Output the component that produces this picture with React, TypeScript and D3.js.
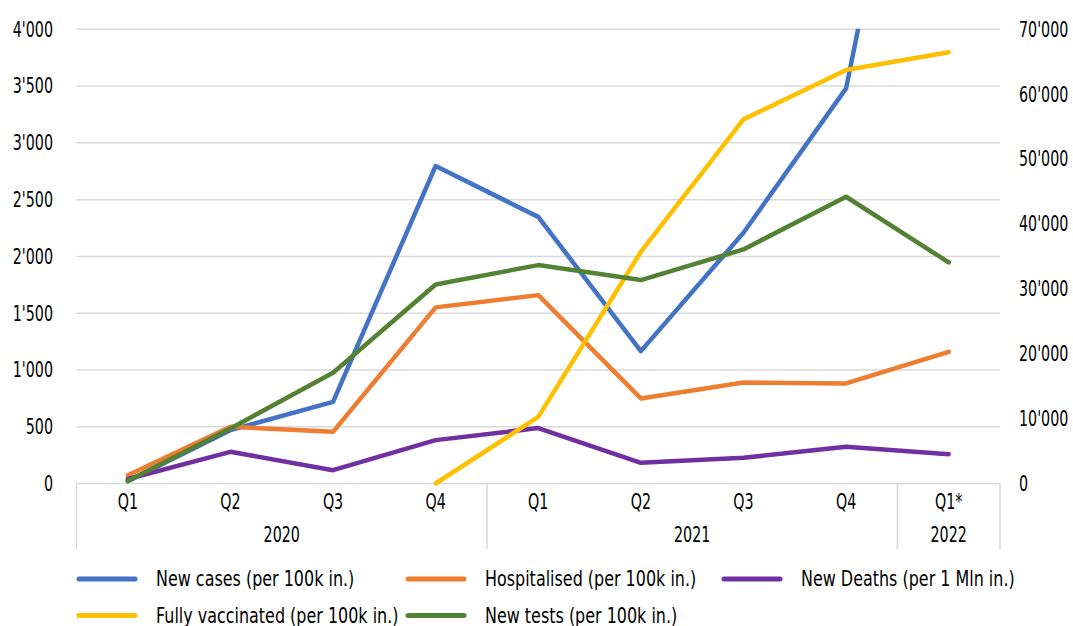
import React from "react";
import * as d3 from "d3";

// Quarterly categories, grouped by year
const quarters = ["Q1", "Q2", "Q3", "Q4", "Q1", "Q2", "Q3", "Q4", "Q1*"];
const yearGroups = [
  { label: "2020", start: 0, end: 4 },
  { label: "2021", start: 4, end: 8 },
  { label: "2022", start: 8, end: 9 },
];

// Left-axis series
const newCases = [20, 470, 719, 2796, 2348, 1166, 2208, 3480, 7930];
const hospitalised = [73, 499, 455, 1551, 1659, 749, 890, 881, 1160];
const newDeaths = [40, 279, 117, 382, 488, 182, 226, 323, 258];

// Right-axis series
const fullyVaccinated: (number | null)[] = [null, null, null, 0, 10270, 35710, 56120, 63720, 66450];
const newTests = [400, 8480, 17060, 30680, 33660, 31350, 36080, 44190, 34070];

const leftTicks = [0, 500, 1000, 1500, 2000, 2500, 3000, 3500, 4000];
const rightTicks = [0, 10000, 20000, 30000, 40000, 50000, 60000, 70000];

const series = [
  { name: "New cases (per 100k in.)", values: newCases, axis: "left", color: "#4472C4" },
  { name: "Hospitalised (per 100k in.)", values: hospitalised, axis: "left", color: "#ED7D31" },
  { name: "New Deaths (per 1 Mln in.)", values: newDeaths, axis: "left", color: "#7030A0" },
  { name: "Fully vaccinated (per 100k in.)", values: fullyVaccinated, axis: "right", color: "#FFC000" },
  { name: "New tests (per 100k in.)", values: newTests, axis: "right", color: "#548235" },
];

// painting order: later series sit on top
const drawOrder = [0, 1, 2, 3, 4];

const W = 1073;
const H = 626;
const plot = { left: 76.5, right: 1000, top: 29.3, bottom: 483.5 };
const FONT = "'DejaVu Sans', sans-serif";
const FONT_SIZE = 21;
const TEXT = "#000000";
const GRID = "#D9D9D9";
const AXIS_SX = 0.68; // horizontal squeeze for a condensed look
const LEGEND_SX = 0.76;

const locale = d3.formatLocale({ decimal: ".", thousands: "'", grouping: [3], currency: ["", ""] });
const fmt = locale.format(",");

type TProps = {
  x: number;
  y: number;
  anchor?: "start" | "middle" | "end";
  sx: number;
  children: React.ReactNode;
};

// Condensed text: squeezed horizontally around its anchor point
function T({ x, y, anchor = "start", sx, children }: TProps) {
  return (
    <g transform={`translate(${x},${y}) scale(${sx},1)`}>
      <text x={0} y={0} dy="0.35em" textAnchor={anchor} fontSize={FONT_SIZE} fill={TEXT}>
        {children}
      </text>
    </g>
  );
}

export default function App() {
  const x = d3
    .scaleBand<number>()
    .domain(d3.range(quarters.length))
    .range([plot.left, plot.right])
    .paddingInner(0)
    .paddingOuter(0);
  const cx = (i: number) => (x(i) as number) + x.bandwidth() / 2;
  const yL = d3.scaleLinear().domain([0, 4000]).range([plot.bottom, plot.top]);
  const yR = d3.scaleLinear().domain([0, 70000]).range([plot.bottom, plot.top]);

  const makeLine = (axis: string) =>
    d3
      .line<number | null>()
      .defined((v) => v !== null)
      .x((_, i) => cx(i))
      .y((v) => (axis === "left" ? yL(v as number) : yR(v as number)));

  const legendRows = [
    [0, 1, 2],
    [3, 4],
  ];
  const legendCols = [77, 406, 722];
  const legendY = [579, 615.5];

  return (
    <svg
      width={W}
      height={H}
      style={{ position: "absolute", left: 0, top: 0, background: "#fff" }}
      fontFamily={FONT}
    >
      <defs>
        <clipPath id="plot-clip">
          <rect x={0} y={plot.top - 0.5} width={W} height={plot.bottom - plot.top + 10} />
        </clipPath>
      </defs>

      {/* gridlines */}
      {leftTicks.slice(1).map((t) => (
        <line key={t} x1={plot.left} x2={plot.right} y1={yL(t)} y2={yL(t)} stroke={GRID} strokeWidth={1.5} />
      ))}

      {/* left axis labels */}
      {leftTicks.map((t) => (
        <T key={t} x={53} y={yL(t)} anchor="end" sx={AXIS_SX}>
          {fmt(t)}
        </T>
      ))}

      {/* right axis labels */}
      {rightTicks.map((t) => (
        <T key={t} x={1019} y={yR(t)} anchor="start" sx={AXIS_SX}>
          {fmt(t)}
        </T>
      ))}

      {/* category axis */}
      <line x1={plot.left} x2={plot.right} y1={plot.bottom} y2={plot.bottom} stroke={GRID} strokeWidth={1.5} />
      {[0, 4, 8, 9].map((b) => {
        const bx = b === 9 ? plot.right : (x(b) as number);
        return <line key={b} x1={bx} x2={bx} y1={plot.bottom} y2={549} stroke={GRID} strokeWidth={1.5} />;
      })}
      {quarters.map((q, i) => (
        <T key={i} x={cx(i)} y={502} anchor="middle" sx={AXIS_SX}>
          {q}
        </T>
      ))}
      {yearGroups.map((g) => {
        const x0 = x(g.start) as number;
        const x1 = g.end >= quarters.length ? plot.right : (x(g.end) as number);
        return (
          <T key={g.label} x={(x0 + x1) / 2} y={535} anchor="middle" sx={AXIS_SX}>
            {g.label}
          </T>
        );
      })}

      {/* series lines */}
      <g clipPath="url(#plot-clip)">
        {drawOrder.map((si) => {
          const s = series[si];
          return (
            <path
              key={s.name}
              d={makeLine(s.axis)(s.values as (number | null)[]) || ""}
              fill="none"
              stroke={s.color}
              strokeWidth={4.5}
              strokeLinejoin="round"
              strokeLinecap="round"
            />
          );
        })}
      </g>

      {/* legend */}
      {legendRows.map((row, r) =>
        row.map((si, c) => {
          const s = series[si];
          const lx = legendCols[c];
          const ly = legendY[r];
          return (
            <g key={s.name}>
              <line x1={lx + 2} x2={lx + 58} y1={ly} y2={ly} stroke={s.color} strokeWidth={5} strokeLinecap="round" />
              <T x={lx + 79} y={ly} sx={LEGEND_SX}>
                {s.name}
              </T>
            </g>
          );
        })
      )}
    </svg>
  );
}
